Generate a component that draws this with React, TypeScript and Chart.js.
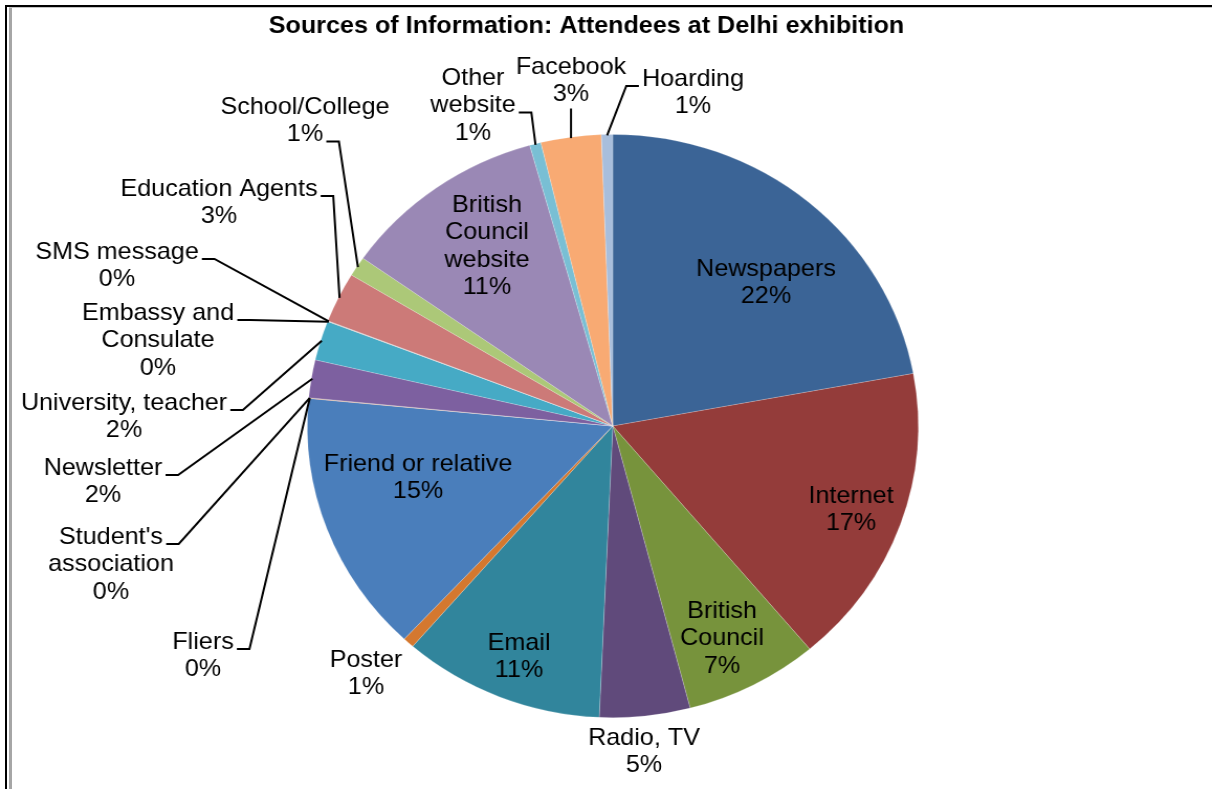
import React, { useEffect, useRef } from "react";
import { Chart, registerables } from "chart.js";

Chart.register(...registerables);

// ---------- data ----------
const categories: string[] = [
  "Newspapers", "Internet", "British Council", "Radio, TV", "Email", "Poster",
  "Friend or relative", "Fliers", "Student's association", "Newsletter",
  "University, teacher", "Embassy and Consulate", "SMS message", "Education Agents",
  "School/College", "British Council website", "Other website", "Facebook", "Hoarding",
];
const shares: number[] = [
  22.2, 16.8, 7.1, 4.8, 10.7, 0.6, 14.6, 0.02, 0.02, 2.1, 2.2, 0.02, 0.02, 2.8, 1.1, 10.9, 0.6, 3.2, 0.6,
];
const labelLines: string[][] = [
  ["Newspapers"], ["Internet"], ["British", "Council"], ["Radio, TV"], ["Email"], ["Poster"],
  ["Friend or relative"], ["Fliers"], ["Student's", "association"], ["Newsletter"],
  ["University, teacher"], ["Embassy and", "Consulate"], ["SMS message"], ["Education Agents"],
  ["School/College"], ["British", "Council", "website"], ["Other", "website"], ["Facebook"], ["Hoarding"],
];
const chartTitle = "Sources of Information: Attendees at Delhi exhibition";

// ---------- styles / layout ----------
const sliceColors: string[] = [
  "#3B6496", "#943C3A", "#77933C", "#604A7B", "#31859C", "#D4782F",
  "#4A7EBB", "#BE4B48", "#98B954", "#7D60A0", "#46AAC5", "#F79646",
  "#95B3D7", "#CC7A78", "#ACC878", "#9A88B5", "#79BFD4", "#F8AA73", "#A8BEDC",
];
// label block: [centre x, first line centre y, leader side, leader line index]
type Lead = null | { side: "r" | "l" | "b"; line: number };
const labelLayout: [number, number, Lead][] = [
  [766, 269, null],
  [851, 496, null],
  [722, 611, null],
  [644, 738, null],
  [519, 643, null],
  [366, 660, null],
  [418, 464, null],
  [203, 642, { side: "r", line: 0 }],
  [111, 537, { side: "r", line: 0 }],
  [103, 468, { side: "r", line: 0 }],
  [124, 403, { side: "r", line: 0 }],
  [158, 313, { side: "r", line: 0 }],
  [117, 252, { side: "r", line: 0 }],
  [219, 189, { side: "r", line: 0 }],
  [305, 107, { side: "r", line: 1 }],
  [487, 205, null],
  [473, 78, { side: "r", line: 1 }],
  [571, 67, { side: "b", line: 1 }],
  [693, 79, { side: "l", line: 0 }],
];

const PAGE_W = 1212;
const PAGE_H = 789;
const SX = 1.0475; // horizontal stretch of the original picture
const CANVAS_W = Math.round(PAGE_W / SX);
const LINE_H = 27.5;
const FONT = '"Liberation Sans", Arial, sans-serif';

const labelPlugin = {
  id: "sliceLabels",
  afterDraw(chart: any) {
    const ctx: CanvasRenderingContext2D = chart.ctx;
    const meta = chart.getDatasetMeta(0);
    const total = shares.reduce((a, b) => a + b, 0);
    ctx.save();
    // title
    ctx.fillStyle = "#000";
    ctx.textAlign = "center";
    ctx.textBaseline = "middle";
    ctx.font = `bold 24px ${FONT}`;
    ctx.fillText(chartTitle, 586.5 / SX, 26);

    ctx.font = `24px ${FONT}`;
    ctx.strokeStyle = "#000";
    ctx.lineWidth = 2;
    ctx.lineJoin = "miter";
    meta.data.forEach((arc: any, i: number) => {
      const p = arc.getProps(["x", "y", "startAngle", "endAngle", "outerRadius"], true);
      const lines = [...labelLines[i], `${Math.round((shares[i] / total) * 100)}%`];
      const [rx, ry, lead] = labelLayout[i];
      const cx = rx / SX;
      lines.forEach((t, k) => ctx.fillText(t, cx, ry + k * LINE_H));
      if (lead) {
        const mid = (p.startAngle + p.endAngle) / 2;
        const ex = p.x + Math.cos(mid) * (p.outerRadius - 1);
        const ey = p.y + Math.sin(mid) * (p.outerRadius - 1);
        const w = ctx.measureText(lines[lead.line]).width;
        ctx.beginPath();
        if (lead.side === "b") {
          const sy = ry + lead.line * LINE_H + 14;
          ctx.moveTo(ex, sy);
          ctx.lineTo(ex, ey);
        } else {
          const sy = ry + lead.line * LINE_H + 7;
          const sx = lead.side === "r" ? cx + w / 2 + 3 : cx - w / 2 - 3;
          const bx = lead.side === "r" ? sx + 12 : sx - 12;
          ctx.moveTo(sx, sy);
          ctx.lineTo(bx, sy);
          ctx.lineTo(ex, ey);
        }
        ctx.stroke();
      }
    });
    ctx.restore();
  },
};

export default function App() {
  const canvasRef = useRef<HTMLCanvasElement | null>(null);

  useEffect(() => {
    if (!canvasRef.current) return;
    const chart = new Chart(canvasRef.current, {
      type: "pie",
      data: {
        labels: categories,
        datasets: [
          {
            data: shares,
            backgroundColor: sliceColors,
            borderColor: "rgba(255,255,255,0.25)",
            borderWidth: 0.75,
          },
        ],
      },
      options: {
        responsive: false,
        animation: false,
        events: [],
        layout: { padding: { top: 134, bottom: 71, left: 293, right: CANVAS_W - 877 } },
        plugins: {
          legend: { display: false },
          tooltip: { enabled: false },
          title: { display: false },
        },
      },
      plugins: [labelPlugin],
    });
    return () => chart.destroy();
  }, []);

  return (
    <div
      style={{
        position: "fixed",
        left: 0,
        top: 0,
        width: PAGE_W,
        height: PAGE_H,
        background: "#fff",
        overflow: "hidden",
      }}
    >
      <div style={{ transform: `scaleX(${SX})`, transformOrigin: "0 0", width: CANVAS_W, height: PAGE_H }}>
        <canvas ref={canvasRef} width={CANVAS_W} height={PAGE_H} style={{ display: "block" }} />
      </div>
      <div style={{ position: "absolute", left: 5, top: 5, right: 0, height: 2, background: "#000" }} />
      <div style={{ position: "absolute", left: 9, top: 7, right: 0, height: 1, background: "#c4c4c4" }} />
      <div style={{ position: "absolute", left: 5, top: 5, bottom: 0, width: 2, background: "#000" }} />
      <div style={{ position: "absolute", left: 9, top: 8, bottom: 0, width: 3, background: "#a6a6a6" }} />
    </div>
  );
}
